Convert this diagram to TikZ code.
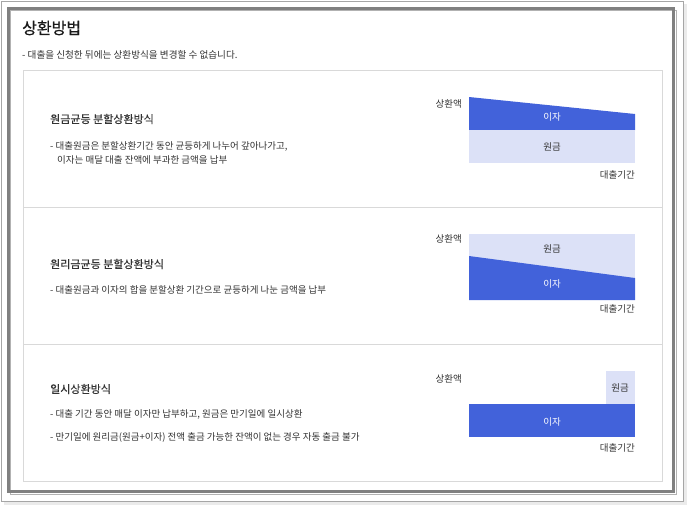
\documentclass[tikz,border=0pt]{standalone}
\usepackage{fontspec}
\setmainfont{Noto Sans CJK KR}
\newfontfamily\titlefont[FakeBold=0.8]{Noto Sans CJK KR}
\newfontfamily\headfont[FakeBold=0.3]{Noto Sans CJK KR}
\definecolor{bluebar}{HTML}{4262DA}
\definecolor{lightbar}{HTML}{DCE1F7}
\definecolor{txt}{HTML}{333333}
\definecolor{frame}{HTML}{808080}
\begin{document}
\begin{tikzpicture}[x=1pt,y=-1pt,
  title/.style={anchor=west,inner sep=0pt,font=\titlefont\fontsize{16}{18}\selectfont,text=black!90},
  sub/.style={anchor=west,inner sep=0pt,font=\fontsize{9.6}{11}\selectfont,text=txt},
  head/.style={anchor=west,inner sep=0pt,font=\headfont\fontsize{11}{13}\selectfont,text=txt},
  body/.style={anchor=west,inner sep=0pt,font=\fontsize{9.5}{11}\selectfont,text=txt},
  axis/.style={inner sep=0pt,font=\fontsize{9.5}{11}\selectfont,text=txt},
  inbar/.style={inner sep=0pt,font=\fontsize{9.5}{11}\selectfont},
]
\useasboundingbox (0,0) rectangle (688,507);
% outer frame
\fill[black!8] (4,4) rectangle (687,505);
\fill[white,draw=black!35,line width=0.8] (1,1) rectangle (683,501);
\draw[black!30,line width=1] (10.5,10.5) rectangle (676.5,494.5);
\draw[frame,line width=3] (8.5,8.5) rectangle (673.5,491.5);
% title
\node[title] (title) at (22,28) {상환방법};
\node[sub] (subt) at (22,55) {- 대출을 신청한 뒤에는 상환방식을 변경할 수 없습니다.};
% inner panel
\draw[black!15,line width=1] (23.5,70.5) rectangle (662.5,481.5);
\draw[black!15,line width=1] (23.5,207.5) -- (662.5,207.5);
\draw[black!15,line width=1] (23.5,344.5) -- (662.5,344.5);

% section 1
\node[head] (h1) at (50,119) {원금균등 분할상환방식};
\node[body] (b1a) at (50,146) {- 대출원금은 분할상환기간 동안 균등하게 나누어 갚아나가고,};
\node[body] (b1b) at (57,160) {이자는 매달 대출 잔액에 부과한 금액을 납부};
\fill[bluebar] (469,97) -- (635,114) -- (635,130) -- (469,130) -- cycle;
\fill[lightbar] (469,130) rectangle (635,163);
\node[axis,anchor=east] (y1) at (462,104) {상환액};
\node[inbar,text=white] (i1) at (552,117) {이자};
\node[inbar,text=txt] (w1) at (552,147) {원금};
\node[axis,anchor=east] (x1) at (635,175) {대출기간};

% section 2
\node[head] (h2) at (50,264) {원리금균등 분할상환방식};
\node[body] (b2a) at (50,290) {- 대출원금과 이자의 합을 분할상환 기간으로 균등하게 나눈 금액을 납부};
\fill[lightbar] (469,234) rectangle (635,300);
\fill[bluebar] (469,256) -- (635,278) -- (635,300) -- (469,300) -- cycle;
\node[axis,anchor=east] (y2) at (462,239) {상환액};
\node[inbar,text=txt] (w2) at (552,249) {원금};
\node[inbar,text=white] (i2) at (552,284) {이자};
\node[axis,anchor=east] (x2) at (635,309) {대출기간};

% section 3
\node[head] (h3) at (50,389) {일시상환방식};
\node[body] (b3a) at (50,414) {- 대출 기간 동안 매달 이자만 납부하고, 원금은 만기일에 일시상환};
\node[body] (b3b) at (50,437) {- 만기일에 원리금(원금+이자) 전액 출금 가능한 잔액이 없는 경우 자동 출금 불가};
\fill[lightbar] (606,371) rectangle (635,404);
\fill[bluebar] (469,404) rectangle (635,437);
\node[axis,anchor=east] (y3) at (462,379) {상환액};
\node[inbar,text=txt] (w3) at (620,388) {원금};
\node[inbar,text=white] (i3) at (552,422) {이자};
\node[axis,anchor=east] (x3) at (635,448) {대출기간};
\end{tikzpicture}
\end{document}
